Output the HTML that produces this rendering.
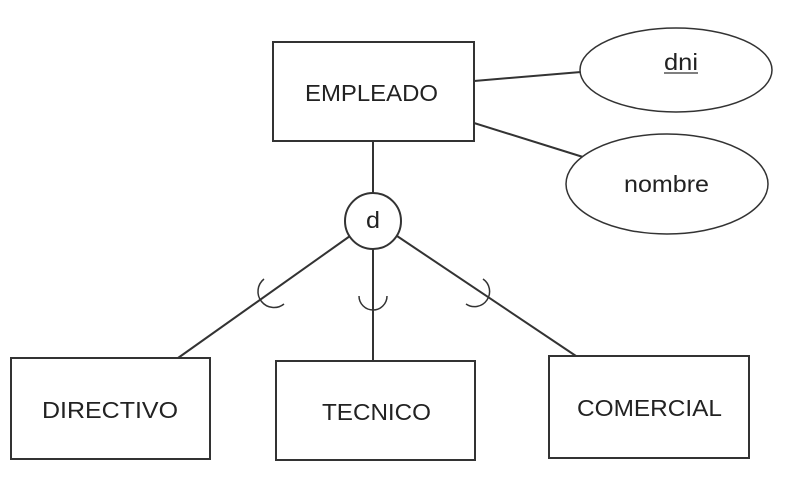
<!DOCTYPE html>
<html><head><meta charset="utf-8"><style>body{margin:0;background:#fff}</style></head>
<body>
<svg width="792" height="474" xmlns="http://www.w3.org/2000/svg" font-family="Liberation Sans, sans-serif" font-size="23" fill="none" stroke="#333" stroke-width="2">
<line x1="474" y1="81" x2="581" y2="72"/>
<line x1="474" y1="123" x2="583" y2="157"/>
<line x1="373" y1="141" x2="373" y2="193"/>
<line x1="350" y1="236" x2="178" y2="358"/>
<line x1="373" y1="248" x2="373" y2="361"/>
<line x1="397" y1="236" x2="576" y2="356"/>
<rect x="273" y="42" width="201" height="99" fill="#fff"/>
<ellipse cx="676" cy="70" rx="96" ry="42" fill="#fff" stroke-width="1.5"/>
<ellipse cx="667" cy="184" rx="101" ry="50" fill="#fff" stroke-width="1.5"/>
<circle cx="373" cy="221" r="28" fill="#fff"/>
<path d="M359 296 A14 14 0 0 0 387 296" stroke-width="1.5"/>
<path d="M264 279 A15 15 0 0 0 284 304" stroke-width="1.5"/>
<path d="M483 279 A15 15 0 0 1 466 304" stroke-width="1.5"/>
<rect x="11" y="358" width="199" height="101" fill="#fff"/>
<rect x="276" y="361" width="199" height="99" fill="#fff"/>
<rect x="549" y="356" width="200" height="102" fill="#fff"/>
<g fill="#222" stroke="none">
<text x="305" y="101" textLength="133" lengthAdjust="spacingAndGlyphs">EMPLEADO</text>
<text x="664" y="70" textLength="34" lengthAdjust="spacingAndGlyphs">dni</text>
<text x="624" y="192" textLength="85" lengthAdjust="spacingAndGlyphs">nombre</text>
<text x="366" y="228" textLength="14" lengthAdjust="spacingAndGlyphs">d</text>
<text x="42" y="418" textLength="136" lengthAdjust="spacingAndGlyphs">DIRECTIVO</text>
<text x="322" y="420" textLength="109" lengthAdjust="spacingAndGlyphs">TECNICO</text>
<text x="577" y="416" textLength="145" lengthAdjust="spacingAndGlyphs">COMERCIAL</text>
</g>
<line x1="664" y1="73" x2="698" y2="73" stroke-width="1.2"/>
</svg>
</body></html>
